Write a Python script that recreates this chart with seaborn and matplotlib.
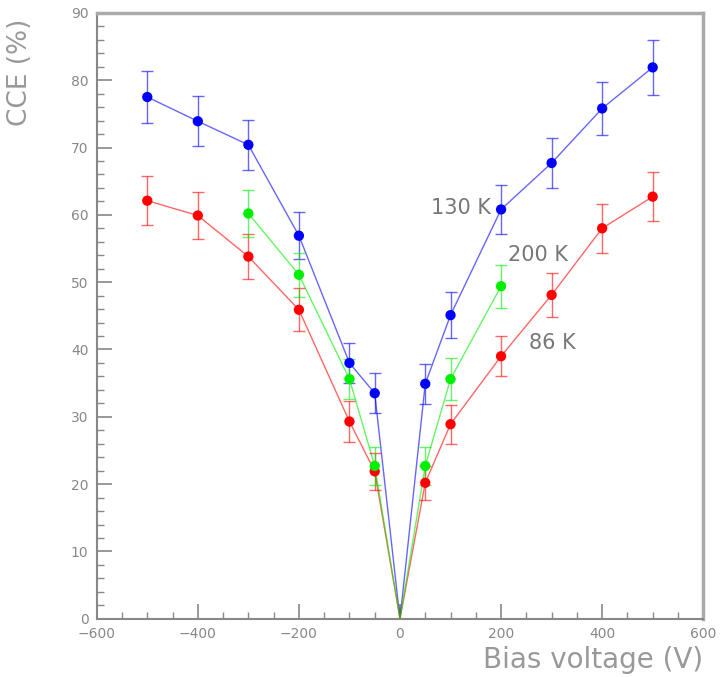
import pandas as pd
import matplotlib
matplotlib.use("Agg")
import matplotlib.pyplot as plt
import seaborn as sns
from matplotlib.ticker import MultipleLocator

sns.set_style("white")
plt.rcParams['font.family'] = ['DejaVu Sans']

# Bias voltage (V) for each temperature series
bias_130 = [-500, -400, -300, -200, -100, -50, 0, 50, 100, 200, 300, 400, 500]
cce_130 = [77.5, 73.9, 70.4, 56.9, 38.0, 33.5, 0.0, 34.9, 45.1, 60.8, 67.7, 75.8, 81.9]
err_130 = [3.8, 3.7, 3.7, 3.5, 3.0, 3.0, 0.0, 3.0, 3.4, 3.7, 3.7, 3.9, 4.1]

bias_86 = [-500, -400, -300, -200, -100, -50, 0, 50, 100, 200, 300, 400, 500]
cce_86 = [62.1, 59.9, 53.8, 45.9, 29.3, 21.9, 0.0, 20.2, 28.9, 39.0, 48.1, 58.0, 62.7]
err_86 = [3.6, 3.5, 3.4, 3.2, 3.0, 2.7, 0.0, 2.5, 2.9, 3.0, 3.3, 3.6, 3.6]

bias_200 = [-300, -200, -100, -50, 0, 50, 100, 200]
cce_200 = [60.2, 51.1, 35.6, 22.7, 0.0, 22.7, 35.6, 49.4]
err_200 = [3.5, 3.3, 3.0, 2.8, 0.0, 2.8, 3.1, 3.2]

series = [
    ("130 K", bias_130, cce_130, err_130, "#0000ff"),
    ("86 K", bias_86, cce_86, err_86, "#ff0000"),
    ("200 K", bias_200, cce_200, err_200, "#00ee00"),
]

rows = []
for name, xs, ys, es, _ in series:
    for x, y, e in zip(xs, ys, es):
        rows.append({"temp": name, "bias": x, "cce": y, "err": e})
df = pd.DataFrame(rows)
palette = {name: c for name, _, _, _, c in series}

fig = plt.figure(figsize=(7.22, 6.77), dpi=100)
ax = fig.add_axes([0.134, 0.086, 0.840, 0.895])

# connecting lines (thin, light)
sns.lineplot(data=df, x="bias", y="cce", hue="temp", palette=palette,
             sort=False, estimator=None, linewidth=1.0, alpha=0.6,
             legend=False, ax=ax)

# error bars and markers (skip the zero point)
for name, xs, ys, es, col in series:
    sub = df[(df["temp"] == name) & (df["bias"] != 0)]
    ax.errorbar(sub["bias"], sub["cce"], yerr=sub["err"], fmt="none",
                ecolor=col, elinewidth=1.0, capsize=4, capthick=1.0, alpha=0.6)
    sns.scatterplot(data=sub, x="bias", y="cce", color=col, s=55,
                    edgecolor="none", zorder=5, ax=ax, legend=False)

# temperature labels
tcol = "#777777"
ax.text(180, 61.0, "130 K", fontsize=15, color=tcol, ha="right", va="center")
ax.text(214, 54.1, "200 K", fontsize=15, color=tcol, ha="left", va="center")
ax.text(255, 41.0, "86 K", fontsize=15, color=tcol, ha="left", va="center")

ax.set_xlim(-600, 600)
ax.set_ylim(0, 90)
ax.xaxis.set_major_locator(MultipleLocator(200))
ax.xaxis.set_minor_locator(MultipleLocator(50))
ax.yaxis.set_major_locator(MultipleLocator(10))
ax.yaxis.set_minor_locator(MultipleLocator(2))
ax.tick_params(which="major", direction="in", length=11, width=1.2,
               color="#888888", labelcolor="#888888", labelsize=10, pad=6,
               bottom=True, left=True)
ax.tick_params(which="minor", direction="in", length=5, width=1.0,
               color="#888888", bottom=True, left=True)

for side in ["left", "bottom"]:
    ax.spines[side].set_color("#888888")
    ax.spines[side].set_linewidth(1.5)
for side in ["top", "right"]:
    ax.spines[side].set_color("#aaaaaa")
    ax.spines[side].set_linewidth(2.5)

ax.set_xlabel("Bias voltage (V)", fontsize=20, color="#999999", loc="right")
ax.set_ylabel("CCE (%)", fontsize=19, color="#999999", loc="top")
ax.xaxis.set_label_coords(1.0, -0.045)
ax.yaxis.set_label_coords(-0.105, 0.99)

plt.savefig("out.png", dpi=100)
plt.close()
